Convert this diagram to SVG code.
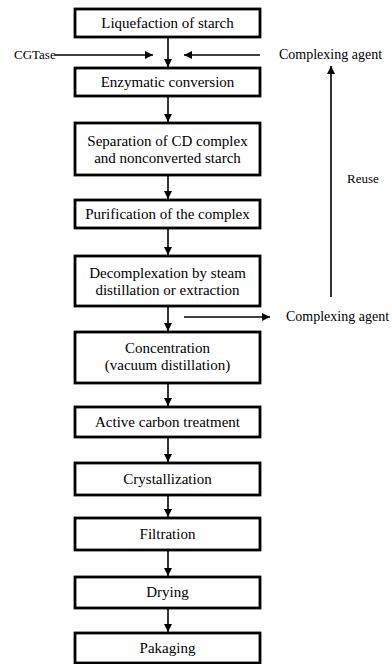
<svg xmlns="http://www.w3.org/2000/svg" width="392" height="664" viewBox="0 0 392 664">
<style>
.box{fill:#fff;stroke:#000;stroke-width:2.8}
.t{font-family:"Liberation Serif","Times New Roman",serif;font-size:15px;fill:#000;text-anchor:middle}
.s{font-family:"Liberation Serif","Times New Roman",serif;font-size:13px;fill:#000}
.c{font-size:14px}
.ln{stroke:#000;stroke-width:1.6;fill:none}
</style>
<defs>
<marker id="ah2" viewBox="0 0 10 10" refX="10" refY="5" markerWidth="10" markerHeight="8" markerUnits="userSpaceOnUse" orient="auto">
<path d="M0,0 L10,5 L0,10 Z" fill="#000"/>
</marker>
</defs>
<rect width="392" height="664" fill="#fff"/>
<g id="connectors">
<line class="ln" x1="168" y1="37" x2="168" y2="67" marker-end="url(#ah2)"/>
<line class="ln" x1="168" y1="96" x2="168" y2="122" marker-end="url(#ah2)"/>
<line class="ln" x1="168" y1="175" x2="168" y2="199" marker-end="url(#ah2)"/>
<line class="ln" x1="168" y1="228" x2="168" y2="255" marker-end="url(#ah2)"/>
<line class="ln" x1="168" y1="306" x2="168" y2="331" marker-end="url(#ah2)"/>
<line class="ln" x1="168" y1="383" x2="168" y2="406" marker-end="url(#ah2)"/>
<line class="ln" x1="168" y1="437" x2="168" y2="462" marker-end="url(#ah2)"/>
<line class="ln" x1="168" y1="495" x2="168" y2="517" marker-end="url(#ah2)"/>
<line class="ln" x1="168" y1="550" x2="168" y2="576" marker-end="url(#ah2)"/>
<line class="ln" x1="168" y1="608" x2="168" y2="632" marker-end="url(#ah2)"/>
<line class="ln" x1="55" y1="55" x2="153" y2="55" marker-end="url(#ah2)"/>
<line class="ln" x1="260" y1="55" x2="184" y2="55" marker-end="url(#ah2)"/>
<line class="ln" x1="184" y1="317" x2="270" y2="317" marker-end="url(#ah2)"/>
<line class="ln" x1="331" y1="297" x2="331" y2="66" marker-end="url(#ah2)"/>
</g>
<g id="n1"><rect class="box" x="75" y="9" width="185" height="28"/><text class="t" x="167.5" y="28">Liquefaction of starch</text></g>
<g id="n2"><rect class="box" x="75" y="68" width="185" height="28"/><text class="t" x="167.5" y="87">Enzymatic conversion</text></g>
<g id="n3"><rect class="box" x="75" y="123" width="185" height="52"/><text class="t" x="167.5" y="146">Separation of CD complex</text><text class="t" x="167.5" y="163">and nonconverted starch</text></g>
<g id="n4"><rect class="box" x="75" y="200" width="185" height="28"/><text class="t" x="167.5" y="219">Purification of the complex</text></g>
<g id="n5"><rect class="box" x="75" y="256" width="185" height="50"/><text class="t" x="167.5" y="278">Decomplexation by steam</text><text class="t" x="167.5" y="295">distillation or extraction</text></g>
<g id="n6"><rect class="box" x="75" y="332" width="185" height="51"/><text class="t" x="167.5" y="353">Concentration</text><text class="t" x="167.5" y="370">(vacuum distillation)</text></g>
<g id="n7"><rect class="box" x="75" y="407" width="185" height="30"/><text class="t" x="167.5" y="427">Active carbon treatment</text></g>
<g id="n8"><rect class="box" x="75" y="463" width="185" height="32"/><text class="t" x="167.5" y="484">Crystallization</text></g>
<g id="n9"><rect class="box" x="75" y="518" width="185" height="32"/><text class="t" x="167.5" y="539">Filtration</text></g>
<g id="n10"><rect class="box" x="75" y="577" width="185" height="31"/><text class="t" x="167.5" y="597">Drying</text></g>
<g id="n11"><rect class="box" x="75" y="633" width="185" height="30"/><text class="t" x="167.5" y="653">Pakaging</text></g>
<g id="labels">
<text class="s" x="14" y="59">CGTase</text>
<text class="s c" x="279" y="59">Complexing agent</text>
<text class="s" x="347" y="183">Reuse</text>
<text class="s c" x="286" y="321">Complexing agent</text>
</g>
</svg>
